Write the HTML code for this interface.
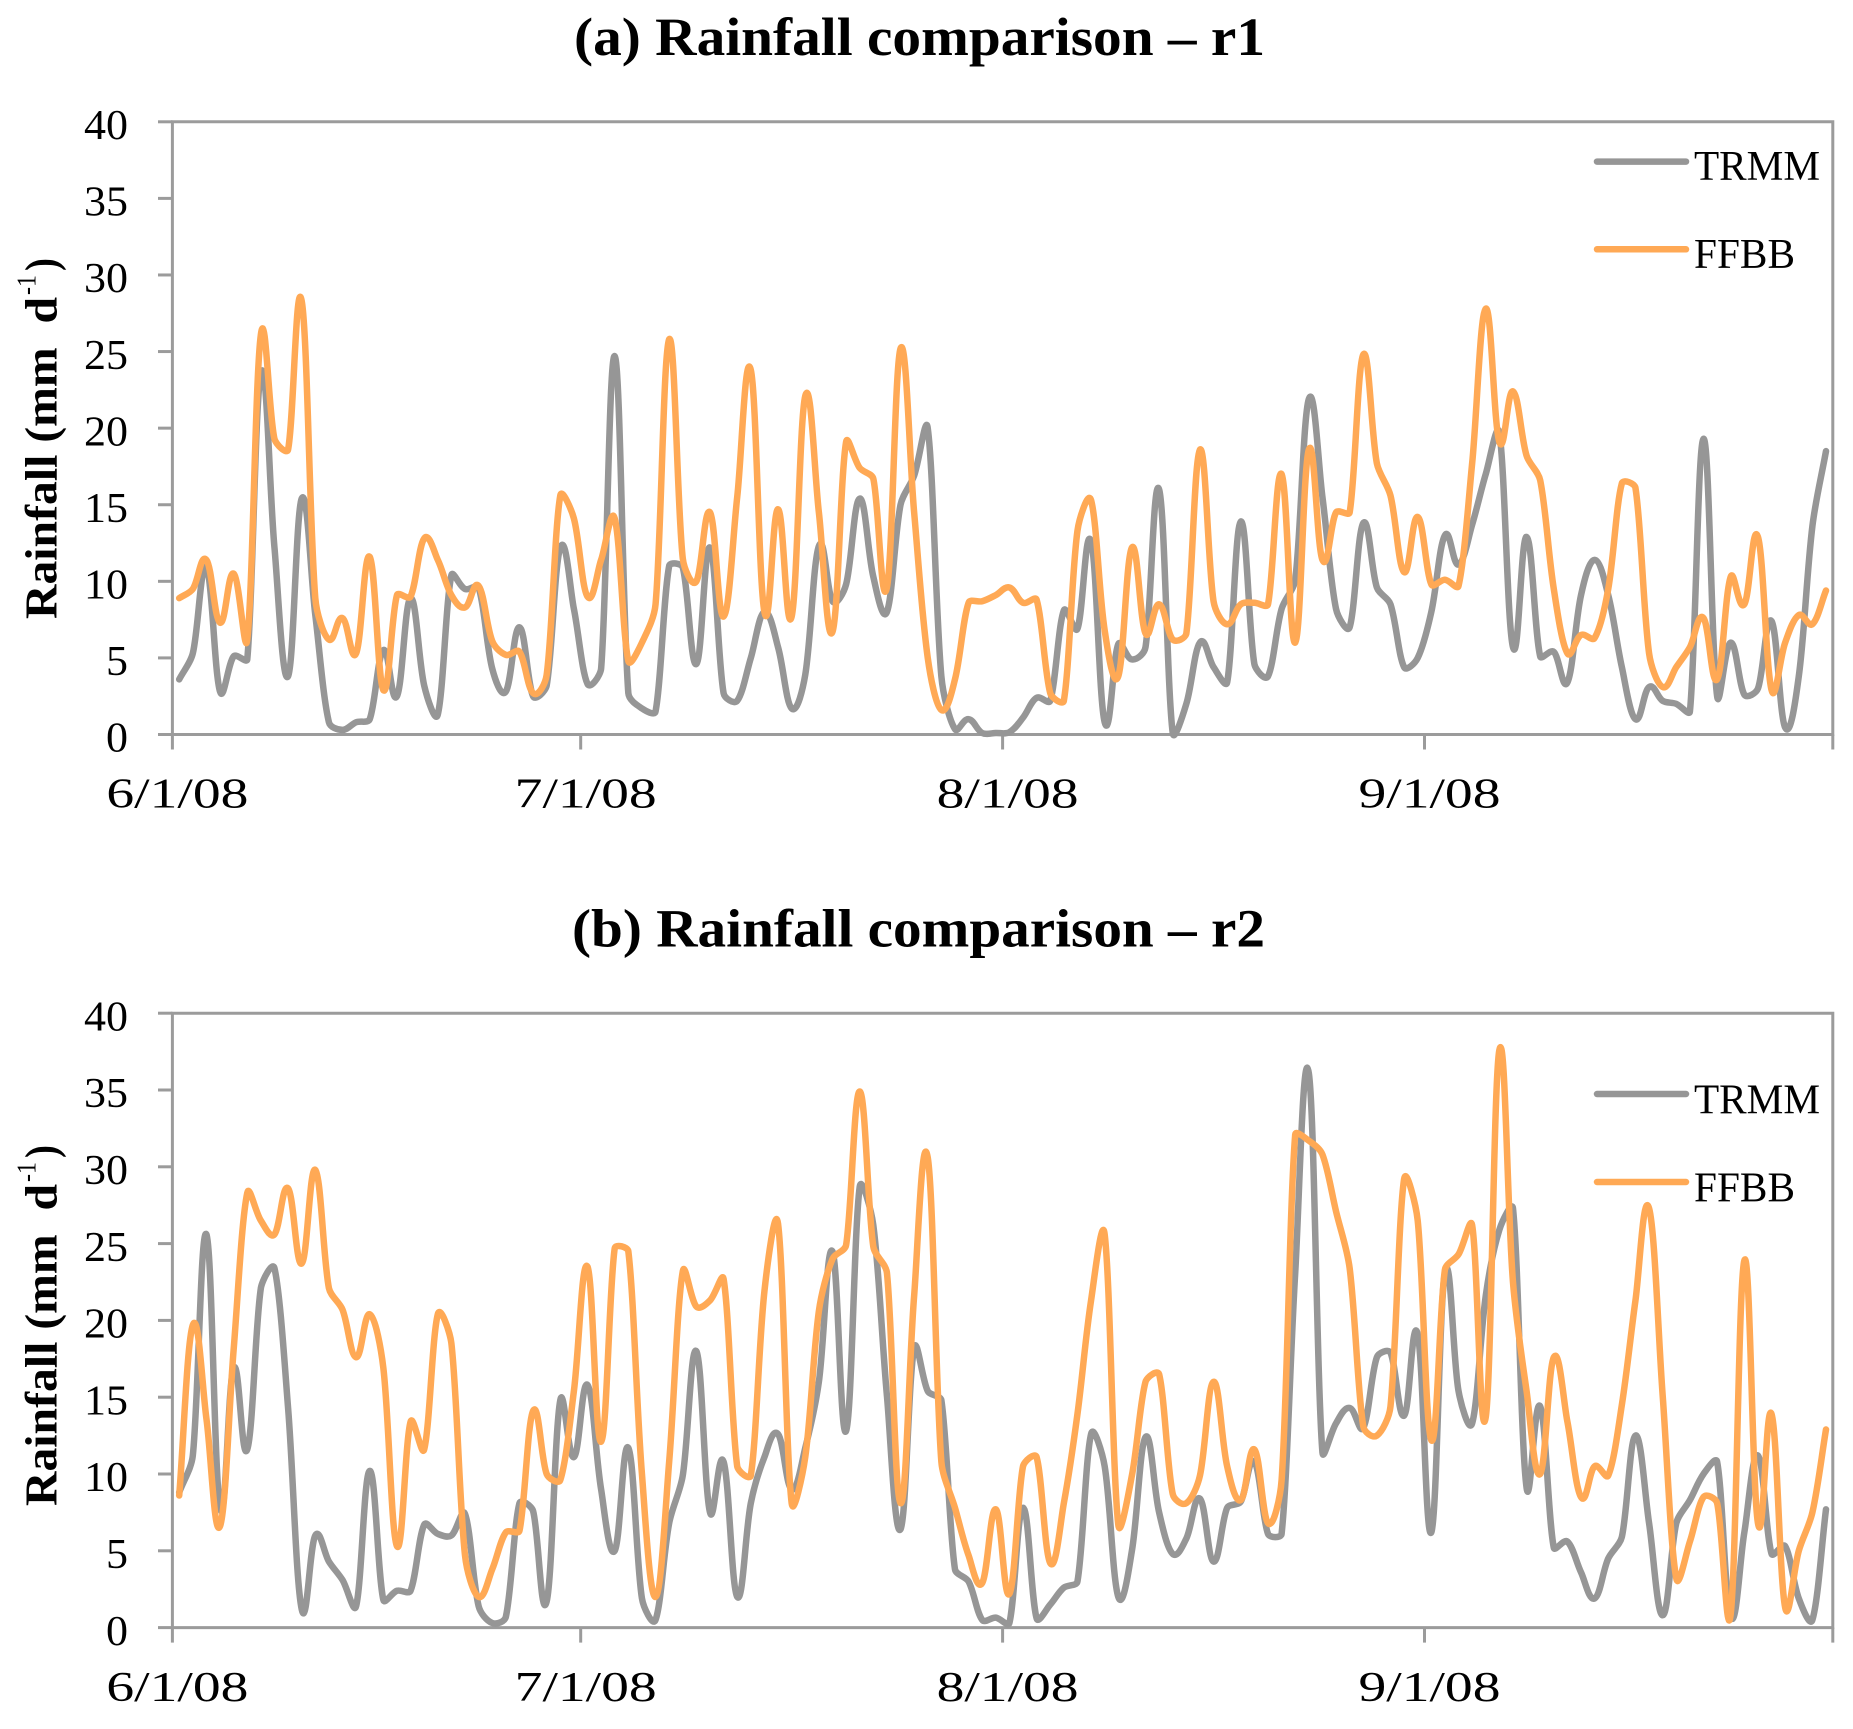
<!DOCTYPE html>
<html lang="en">
<head>
<meta charset="utf-8">
<title>Rainfall comparison</title>
<style>
html,body{margin:0;padding:0;background:#fff;}
svg{display:block;}
text{font-family:"Liberation Serif",serif;fill:#000;}
</style>
</head>
<body>
<svg id="figure" xmlns="http://www.w3.org/2000/svg" width="1853" height="1729" viewBox="0 0 1853 1729">
  <rect x="0" y="0" width="1853" height="1729" fill="#ffffff"/>
  <text x="574" y="55" font-size="54" font-weight="bold" textLength="691" lengthAdjust="spacingAndGlyphs">(a) Rainfall comparison – r1</text>
  <text x="572" y="946.7" font-size="54" font-weight="bold" textLength="693" lengthAdjust="spacingAndGlyphs">(b) Rainfall comparison – r2</text>

  <g transform="translate(56.7 619) rotate(-90)">
    <text x="0" y="0" font-size="45" font-weight="bold" textLength="322" lengthAdjust="spacingAndGlyphs" xml:space="preserve">Rainfall (mm  d</text>
    <text x="324" y="-21" font-size="27" textLength="20" lengthAdjust="spacingAndGlyphs">-1</text>
    <text x="348" y="0" font-size="45" font-weight="bold" textLength="13" lengthAdjust="spacingAndGlyphs">)</text>
  </g>
  <g transform="translate(56.7 1506) rotate(-90)">
    <text x="0" y="0" font-size="45" font-weight="bold" textLength="322" lengthAdjust="spacingAndGlyphs" xml:space="preserve">Rainfall (mm  d</text>
    <text x="324" y="-21" font-size="27" textLength="20" lengthAdjust="spacingAndGlyphs">-1</text>
    <text x="348" y="0" font-size="45" font-weight="bold" textLength="13" lengthAdjust="spacingAndGlyphs">)</text>
  </g>

  <g id="chart-a"></g>
  <g id="chart-b"></g>

  <g>
    <g>
      <line x1="1597" y1="161.6" x2="1686" y2="161.6" stroke="#969696" stroke-width="6.5" stroke-linecap="round"/>
      <text x="1694" y="180" font-size="42" textLength="126" lengthAdjust="spacingAndGlyphs">TRMM</text>
    </g>
    <g>
      <line x1="1597" y1="249.3" x2="1686" y2="249.3" stroke="#FFA955" stroke-width="6.5" stroke-linecap="round"/>
      <text x="1694" y="268" font-size="42" textLength="101" lengthAdjust="spacingAndGlyphs">FFBB</text>
    </g>
  </g>
  <g>
    <g>
      <line x1="1597" y1="1094" x2="1686" y2="1094" stroke="#969696" stroke-width="6.5" stroke-linecap="round"/>
      <text x="1694" y="1113.5" font-size="42" textLength="126" lengthAdjust="spacingAndGlyphs">TRMM</text>
    </g>
    <g>
      <line x1="1597" y1="1182" x2="1686" y2="1182" stroke="#FFA955" stroke-width="6.5" stroke-linecap="round"/>
      <text x="1694" y="1201.6" font-size="42" textLength="101" lengthAdjust="spacingAndGlyphs">FFBB</text>
    </g>
  </g>
</svg>
<script>
const yTickValues = [0, 5, 10, 15, 20, 25, 30, 35, 40];
const xTickLabels = ['6/1/08', '7/1/08', '8/1/08', '9/1/08'];
const dayCount = 122;

const trmmA = [
  3.6,5.3,10.9,2.8,5.1,4.9,23.6,12.2,3.8,15.4,7.8,0.8,0.3,0.8,1.0,5.5,2.5,8.9,3.2,1.3,
  10.4,9.5,9.6,4.3,2.8,7.0,2.5,3.2,12.2,8.2,3.3,4.3,24.7,2.7,1.7,1.5,11.0,10.9,4.6,12.2,
  2.7,2.2,5.0,8.0,5.7,1.7,3.9,12.3,8.7,9.8,15.4,10.3,8.0,15.0,16.9,20.0,3.8,0.35,1.0,0.1,
  0.1,0.15,1.1,2.4,2.2,8.1,6.9,12.6,0.8,5.9,4.9,5.7,16.0,0.1,2.0,6.0,4.4,3.4,13.9,4.6,
  3.8,8.2,10.1,21.9,15.5,8.2,7.0,13.8,9.6,8.5,4.4,5.0,8.0,13.0,11.1,13.7,17.0,19.7,5.7,12.9,
  5.1,5.4,3.4,9.1,11.4,9.1,4.4,1.0,3.1,2.2,2.0,1.5,19.3,2.5,6.0,2.6,3.0,7.4,0.45,3.8,
  13.6,18.5
];
const ffbbA = [
  8.9,9.5,11.4,7.3,10.5,6.2,26.1,19.3,18.6,28.3,8.9,6.2,7.6,5.3,11.6,2.9,9.1,9.0,12.8,11.4,
  9.1,8.3,9.7,6.1,5.2,5.4,2.7,3.9,15.6,14.1,9.0,11.4,14.1,4.8,6.0,8.5,25.8,11.5,10.0,14.5,
  7.7,15.5,23.8,8.0,14.7,7.7,22.1,14.5,6.7,19.1,17.4,16.7,9.6,25.2,14.5,5.0,1.6,3.6,8.6,8.7,
  9.1,9.6,8.6,8.8,2.7,2.2,13.3,15.3,6.8,3.8,12.2,6.6,8.5,6.2,6.6,18.6,8.7,7.2,8.5,8.6,
  8.5,17.0,6.0,18.6,11.4,14.5,14.5,24.8,17.7,15.6,10.6,14.2,9.8,10.1,9.7,17.7,27.8,19.1,22.4,18.2,
  16.6,9.5,5.3,6.5,6.3,9.5,16.4,16.1,5.3,3.1,4.4,5.7,7.6,3.6,10.3,8.5,12.9,2.9,6.0,7.8,
  7.2,9.4
];
const trmmB = [
  8.8,11.2,25.6,7.8,16.9,11.6,22.1,23.4,14.3,1.2,6.0,4.3,3.1,1.4,10.2,1.8,2.4,2.4,6.7,6.1,
  6.0,7.4,1.4,0.3,0.7,8.1,7.6,1.7,14.8,11.1,15.8,9.0,5.0,11.7,1.9,0.5,6.8,9.9,18.0,7.5,
  10.8,2.0,8.1,11.1,12.6,9.0,11.7,16.0,24.5,12.8,28.7,26.2,15.1,6.4,18.2,15.4,14.8,3.8,3.0,0.5,
  0.65,0.3,7.8,0.6,1.5,2.6,3.0,12.6,10.5,2.0,5.0,12.4,7.5,4.8,5.8,8.4,4.3,7.8,8.2,10.8,
  6.1,6.1,23.1,36.1,11.4,13.3,14.3,13.0,17.6,17.9,13.8,19.1,6.2,23.1,15.4,13.3,21.6,25.9,27.3,9.1,
  14.4,5.2,5.6,3.6,1.9,4.5,5.9,12.5,6.8,0.8,6.8,8.3,10.0,10.8,0.7,6.2,11.2,4.8,5.3,1.9,
  0.5,7.7
];
const ffbbB = [
  8.6,19.7,13.6,6.6,18.1,28.3,26.5,25.6,28.6,23.7,29.8,22.1,20.7,17.6,20.4,16.9,5.3,13.4,11.6,20.4,
  18.5,4.7,2.0,3.8,6.2,6.3,14.1,10.0,9.6,15.4,23.5,12.1,24.7,24.5,10.0,2.0,10.8,23.2,20.9,21.3,
  22.7,10.5,9.9,21.9,26.3,8.1,11.1,20.6,24.0,24.9,34.9,24.8,23.1,8.1,21.6,30.6,10.8,7.8,4.7,2.9,
  7.7,2.2,10.5,11.1,4.2,8.1,13.9,21.3,25.6,6.7,9.9,16.0,16.5,8.7,8.1,9.9,16.0,10.5,8.3,11.6,
  6.8,9.6,32.1,31.7,30.8,27.1,23.4,13.1,12.5,14.4,29.2,26.5,12.2,23.3,24.3,26.2,13.7,37.6,22.5,15.4,
  10.0,17.6,13.4,8.5,10.5,9.9,14.5,21.3,27.3,15.1,3.2,5.6,8.5,8.1,0.9,23.9,6.8,13.9,1.3,5.0,
  7.5,12.9
];

const SVG_NS = 'http://www.w3.org/2000/svg';
const AXIS_COLOR = '#9b9b9b';
const PLOT_LEFT = 172.4;
const PLOT_RIGHT = 1832.8;
const Y_MAX = 40;

function dayIndex(label) {
  const p = label.split('/').map(Number);
  const p0 = xTickLabels[0].split('/').map(Number);
  return Math.round((Date.UTC(2000 + p[2], p[0] - 1, p[1]) - Date.UTC(2000 + p0[2], p0[0] - 1, p0[1])) / 86400000);
}
function make(tag, attrs, parent) {
  const el = document.createElementNS(SVG_NS, tag);
  for (const k in attrs) el.setAttribute(k, attrs[k]);
  parent.appendChild(el);
  return el;
}
function xEdge(day) {
  return PLOT_LEFT + (PLOT_RIGHT - PLOT_LEFT) * day / dayCount;
}
function xPoint(i) {
  return xEdge(i + 0.5);
}
function handleLength(dir, segLen, dx) {
  let h = 0.33 * segLen;
  const hx = Math.abs(dir[0]) * h;
  const maxX = dx * 0.42;
  if (hx > maxX) h = maxX / Math.abs(dir[0]);
  return h;
}
function smoothPath(values, yScale) {
  const pts = values.map((v, i) => [xPoint(i), yScale(v)]);
  const dirs = pts.map(function (p, i) {
    const a = pts[Math.max(i - 1, 0)];
    const b = pts[Math.min(i + 1, pts.length - 1)];
    const dx = b[0] - a[0];
    const dy = b[1] - a[1];
    const n = Math.hypot(dx, dy) || 1;
    return [dx / n, dy / n];
  });
  let d = 'M' + pts[0][0].toFixed(2) + ' ' + pts[0][1].toFixed(2);
  for (let i = 0; i < pts.length - 1; i++) {
    const p1 = pts[i];
    const p2 = pts[i + 1];
    const dx = p2[0] - p1[0];
    const len = Math.hypot(dx, p2[1] - p1[1]);
    const h1 = handleLength(dirs[i], len, dx);
    const h2 = handleLength(dirs[i + 1], len, dx);
    const c1x = p1[0] + dirs[i][0] * h1;
    const c1y = p1[1] + dirs[i][1] * h1;
    const c2x = p2[0] - dirs[i + 1][0] * h2;
    const c2y = p2[1] - dirs[i + 1][1] * h2;
    d += 'C' + c1x.toFixed(2) + ' ' + c1y.toFixed(2) + ' ' + c2x.toFixed(2) + ' ' + c2y.toFixed(2) + ' ' + p2[0].toFixed(2) + ' ' + p2[1].toFixed(2);
  }
  return d;
}
function drawChart(groupId, plotTop, plotBottom, xLabelBaseline, seriesGray, seriesOrange) {
  const g = document.getElementById(groupId);
  const yScale = v => plotBottom - (plotBottom - plotTop) * v / Y_MAX;

  const frame = make('path', {
    d: 'M' + PLOT_LEFT + ' ' + plotBottom + 'V' + plotTop + 'H' + PLOT_RIGHT + 'V' + plotBottom + 'H' + PLOT_LEFT,
    fill: 'none', stroke: AXIS_COLOR, 'stroke-width': 3
  }, g);
  
  

  yTickValues.forEach(function (v) {
    const y = yScale(v);
    const tick = make('line', { x1: 158, x2: PLOT_LEFT, y1: y, y2: y, stroke: AXIS_COLOR, 'stroke-width': 3 }, g);
    
    
    const label = make('text', { x: 128, y: y + 17.2, 'font-size': 42, 'text-anchor': 'end', textLength: v < 10 ? 22 : 44, lengthAdjust: 'spacingAndGlyphs' }, g);
    label.textContent = String(v);
    
    
  });

  const xTickDays = xTickLabels.map(dayIndex).concat([dayCount]);
  xTickDays.forEach(function (day, idx) {
    const x = xEdge(day);
    const tick = make('line', { x1: x, x2: x, y1: plotBottom, y2: plotBottom + 15, stroke: AXIS_COLOR, 'stroke-width': 3 }, g);
    
    
    if (idx < xTickLabels.length) {
      const label = make('text', { x: x + 5, y: xLabelBaseline, 'font-size': 42, 'text-anchor': 'middle', textLength: 142, lengthAdjust: 'spacingAndGlyphs' }, g);
      label.textContent = xTickLabels[idx];
      
      
    }
  });

  const gray = make('path', { d: smoothPath(seriesGray, yScale), fill: 'none', stroke: '#969696', 'stroke-width': 6.5, 'stroke-linejoin': 'round', 'stroke-linecap': 'round' }, g);
  
  
  const orange = make('path', { d: smoothPath(seriesOrange, yScale), fill: 'none', stroke: '#FFA955', 'stroke-width': 6.5, 'stroke-linejoin': 'round', 'stroke-linecap': 'round' }, g);
  
  
}
drawChart('chart-a', 121.8, 734.5, 807.5, trmmA, ffbbA);
drawChart('chart-b', 1013.2, 1627.6, 1701, trmmB, ffbbB);
</script>
</body>
</html>
